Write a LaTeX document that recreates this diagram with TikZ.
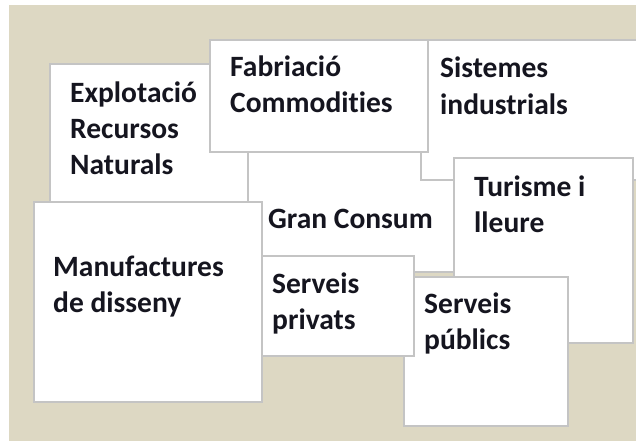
\documentclass[tikz,border=0pt]{standalone}
\usepackage{fontspec}
\setmainfont{Carlito}[Ligatures=NoCommon]
\definecolor{beige}{HTML}{DDD8C3}
\definecolor{edge}{HTML}{C4C4C4}
\definecolor{ink}{HTML}{15151F}
\begin{document}
\begin{tikzpicture}[x=1pt,y=-1pt,
  box/.style={draw=edge, line width=1.6pt, fill=white, anchor=north west,
    inner sep=0pt, outer sep=0pt},
  lbl/.style={anchor=base west, inner sep=0pt, align=left, text=ink,
    font=\fontsize{29.5}{36}\selectfont\bfseries}]
\useasboundingbox (0,0) rectangle (636,441);
\fill[white] (0,0) rectangle (636,441);
\fill[beige] (9,5) rectangle (636,441);
% boxes, back to front
\node[box, minimum width=280pt, minimum height=152pt] (gc) at (240,120) {};
\node[box, minimum width=240pt, minimum height=140pt] (sis) at (421,40) {};
\node[box, minimum width=198pt, minimum height=170pt] (exp) at (50,64) {};
\node[box, minimum width=218pt, minimum height=112pt] (fab) at (210,40) {};
\node[box, minimum width=179pt, minimum height=185pt] (tur) at (454,158) {};
\node[box, minimum width=164pt, minimum height=149pt] (pub) at (404,277) {};
\node[box, minimum width=214pt, minimum height=100pt] (pri) at (200,256) {};
\node[box, minimum width=228pt, minimum height=200pt] (man) at (34,202) {};
% labels (anchor = baseline of the last line)
\node[lbl] (gct) at (268,228) {Gran Consum};
\node[lbl] (sist) at (440,114) {Sistemes\\industrials};
\node[lbl] (expt) at (70,174) {Explotació\\Recursos\\Naturals};
\node[lbl] (fabt) at (230,113) {Fabriació\\Commodities};
\node[lbl] (turt) at (474,232) {Turisme i\\lleure};
\node[lbl] (pubt) at (424,349) {Serveis\\públics};
\node[lbl] (prit) at (272,329) {Serveis\\privats};
\node[lbl] (mant) at (53,312) {Manufactures\\de disseny};
\end{tikzpicture}
\end{document}
